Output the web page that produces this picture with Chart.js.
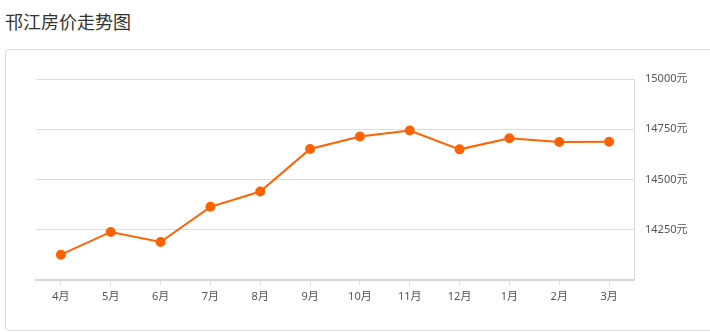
<!DOCTYPE html>
<html>
<head>
<meta charset="utf-8">
<script src="https://cdn.jsdelivr.net/npm/chart.js@4.4.0/dist/chart.umd.min.js"></script>
<style>
  body { margin: 0; background: #fff; width: 710px; height: 332px; overflow: hidden; position: relative; }
  #title { position: absolute; left: 5px; top: 8px; font: 18px 'Noto Sans CJK SC', sans-serif; color: #333; }
  #card { position: absolute; left: 5px; top: 49px; width: 740px; height: 280px; border: 1px solid #ddd; border-radius: 4px; }
  #chart { position: absolute; left: 0; top: 0; }
</style>
</head>
<body>
<div id="title">邗江房价走势图</div>
<div id="card"></div>
<canvas id="chart" width="710" height="332"></canvas>
<script>
const meses = ['4月', '5月', '6月', '7月', '8月', '9月', '10月', '11月', '12月', '1月', '2月', '3月']
const precos = [14126, 14239, 14189, 14364, 14440, 14652, 14714, 14744, 14650, 14705, 14687, 14688]
const yMin = 14000
const yMax = 15000
const yPasso = 250

const fonte = "'Noto Sans', 'Noto Sans CJK SC', sans-serif"

//Line chart
new Chart(document.getElementById('chart'), {
    type: 'line',
    data: {
        labels: meses,
        datasets: [{
            data: precos,
            borderColor: '#ff6200',
            backgroundColor: '#ff6200',
            borderWidth: 2,
            pointRadius: 4,
            pointHoverRadius: 4,
            tension: 0,
            fill: false
        }]
    },
    options: {
        responsive: false,
        animation: false,
        layout: { padding: { left: 36, top: 79, right: 0, bottom: 22 } },
        plugins: { legend: { display: false }, tooltip: { enabled: false } },
        scales: {
            x: {
                offset: true,
                afterFit: s => { s.height = 30 },
                grid: { drawOnChartArea: false, drawTicks: true, tickLength: 5, color: '#ddd' },
                border: { color: '#d6d6d6', width: 2 },
                ticks: { color: '#555', font: { family: fonte, size: 11 }, padding: 5, maxRotation: 0 }
            },
            y: {
                position: 'right',
                min: yMin,
                max: yMax,
                afterFit: s => { s.width = 76 },
                grid: { color: '#ddd', drawTicks: false },
                border: { color: '#ddd', width: 1 },
                ticks: {
                    stepSize: yPasso,
                    padding: 11,
                    color: '#555',
                    font: { family: fonte, size: 11 },
                    callback: v => v === yMin ? '' : v + '元'
                }
            }
        }
    }
})
</script>
</body>
</html>
